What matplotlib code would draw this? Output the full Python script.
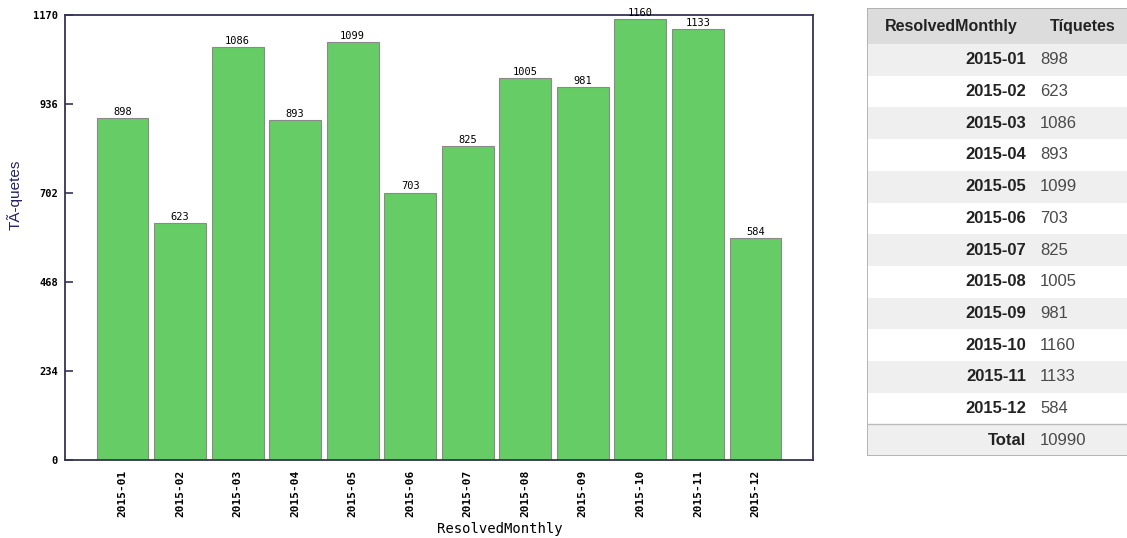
import matplotlib.pyplot as plt
from matplotlib.patches import Rectangle

months = ["2015-01", "2015-02", "2015-03", "2015-04", "2015-05", "2015-06",
          "2015-07", "2015-08", "2015-09", "2015-10", "2015-11", "2015-12"]
tickets = [898, 623, 1086, 893, 1099, 703, 825, 1005, 981, 1160, 1133, 584]
y_ticks = [0, 234, 468, 702, 936, 1170]
total_label = "Total"

W, H = 1127, 538
fig = plt.figure(figsize=(W / 100, H / 100), dpi=100)

# bar chart
ax = fig.add_axes([65 / W, (H - 460) / H, (813 - 65) / W, (460 - 15) / H])
x = list(range(len(months)))
ax.bar(x, tickets, width=0.9, color="#66cc66", edgecolor="#8a8a8a", linewidth=0.8)
for xi, v in zip(x, tickets):
    ax.text(xi, v + 3, str(v), ha="center", va="bottom", family="DejaVu Sans Mono", fontsize=7.5)

ax.set_xlim(-1, 12)
ax.set_ylim(0, 1170)
ax.set_yticks(y_ticks)
ax.set_yticklabels([str(t) for t in y_ticks], family="DejaVu Sans Mono", fontsize=7.5, fontweight="bold")
ax.set_xticks(x)
ax.set_xticklabels(months, rotation=90, family="DejaVu Sans Mono", fontsize=8, fontweight="bold")
ax.tick_params(axis="y", direction="in", length=6, width=1.2, color="#333355", pad=5)
ax.tick_params(axis="x", length=0, pad=7)
for s in ax.spines.values():
    s.set_color("#333355")
    s.set_linewidth(1.3)
ax.set_xlabel("ResolvedMonthly", family="DejaVu Sans Mono", fontsize=10)
ax.xaxis.set_label_coords(0.5816, -0.139)
ax.set_ylabel("TÃ-quetes", family="Liberation Sans", fontsize=11, color="#222266")
ax.yaxis.set_label_coords(-0.056, 0.596)

# table on the right, drawn in pixel units
head_h = 36
row_h = 31.7
rows = list(zip(months, tickets)) + [(total_label, sum(tickets))]
tx0, ty0, tw = 867, 8, 262
th = head_h + len(rows) * row_h
tab = fig.add_axes([tx0 / W, (H - ty0 - th) / H, tw / W, th / H])
tab.set_xlim(0, tw)
tab.set_ylim(th, 0)
tab.axis("off")

tab.add_patch(Rectangle((0, 0), tw, head_h, facecolor="#dcdcdc", edgecolor="none"))
tab.text(84, head_h / 2, "ResolvedMonthly", ha="center", va="center",
         family="Liberation Sans", fontsize=11.5, fontweight="bold", color="#222222")
tab.text(216, head_h / 2, "Tíquetes", ha="center", va="center",
         family="Liberation Sans", fontsize=11.5, fontweight="bold", color="#222222")

for i, (lab, val) in enumerate(rows):
    y0 = head_h + i * row_h
    fc = "#efefef" if i % 2 == 0 else "#ffffff"
    tab.add_patch(Rectangle((0, y0), tw, row_h, facecolor=fc, edgecolor="none"))
    tab.text(159, y0 + row_h / 2, lab, ha="right", va="center",
             family="Liberation Sans", fontsize=12, fontweight="bold", color="#222222")
    tab.text(173, y0 + row_h / 2, str(val), ha="left", va="center",
             family="Liberation Sans", fontsize=12, color="#4a4a4a")

y_tot = head_h + 12 * row_h
tab.plot([0, tw], [y_tot, y_tot], color="#bbbbbb", lw=1)
tab.add_patch(Rectangle((0, 0), tw, th, facecolor="none", edgecolor="#aaaaaa", lw=1.2))

fig.savefig("out.png", dpi=100)
